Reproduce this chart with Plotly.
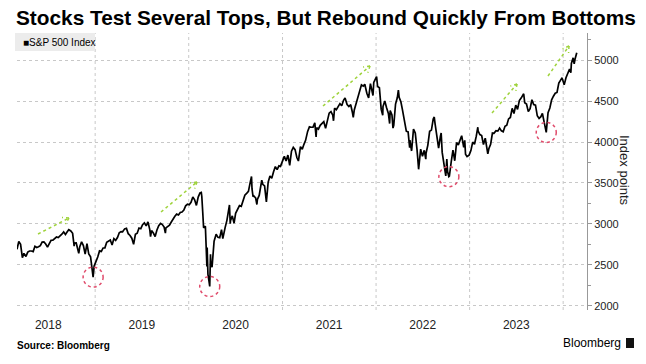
import math
import plotly.graph_objects as go

# ---------------- data (S&P 500 Index) ----------------
dates = [
 "2018-03-02","2018-03-09","2018-03-16","2018-03-23","2018-03-29","2018-04-06","2018-04-13","2018-04-20","2018-04-27",
 "2018-05-04","2018-05-11","2018-05-18","2018-05-25","2018-06-01","2018-06-08","2018-06-15","2018-06-22","2018-06-29",
 "2018-07-06","2018-07-13","2018-07-20","2018-07-27","2018-08-03","2018-08-10","2018-08-17","2018-08-24","2018-08-31",
 "2018-09-07","2018-09-14","2018-09-20","2018-09-28","2018-10-05","2018-10-11","2018-10-12","2018-10-19","2018-10-26",
 "2018-10-29","2018-11-02","2018-11-09","2018-11-16","2018-11-23","2018-11-30","2018-12-07","2018-12-14","2018-12-21",
 "2018-12-24","2018-12-28",
 "2019-01-04","2019-01-11","2019-01-18","2019-01-25","2019-02-01","2019-02-08","2019-02-15","2019-02-22","2019-03-01",
 "2019-03-08","2019-03-15","2019-03-22","2019-03-29","2019-04-05","2019-04-12","2019-04-18","2019-04-26","2019-05-03",
 "2019-05-10","2019-05-17","2019-05-24","2019-05-31","2019-06-07","2019-06-14","2019-06-21","2019-06-28","2019-07-05",
 "2019-07-12","2019-07-19","2019-07-26","2019-08-02","2019-08-05","2019-08-09","2019-08-16","2019-08-23","2019-08-30",
 "2019-09-06","2019-09-13","2019-09-20","2019-09-27","2019-10-02","2019-10-04","2019-10-11","2019-10-18","2019-10-25",
 "2019-11-01","2019-11-08","2019-11-15","2019-11-22","2019-11-29","2019-12-06","2019-12-13","2019-12-20","2019-12-27",
 "2020-01-03","2020-01-10","2020-01-17","2020-01-24","2020-01-31","2020-02-07","2020-02-14","2020-02-19","2020-02-21",
 "2020-02-25","2020-02-28","2020-03-06","2020-03-09","2020-03-12","2020-03-13","2020-03-16","2020-03-20","2020-03-23",
 "2020-03-26","2020-03-27","2020-04-01","2020-04-09","2020-04-17","2020-04-24","2020-05-01","2020-05-08","2020-05-13",
 "2020-05-15","2020-05-22","2020-05-29","2020-06-08","2020-06-11","2020-06-12","2020-06-19","2020-06-26","2020-07-02",
 "2020-07-10","2020-07-17","2020-07-24","2020-07-31","2020-08-07","2020-08-14","2020-08-21","2020-08-28","2020-09-02",
 "2020-09-04","2020-09-08","2020-09-11","2020-09-18","2020-09-23","2020-09-25","2020-10-02","2020-10-09","2020-10-12",
 "2020-10-16","2020-10-23","2020-10-30","2020-11-06","2020-11-13","2020-11-20","2020-11-27","2020-12-04","2020-12-11",
 "2020-12-18","2020-12-24","2020-12-31",
 "2021-01-08","2021-01-15","2021-01-22","2021-01-29","2021-02-05","2021-02-12","2021-02-19","2021-02-26","2021-03-04",
 "2021-03-12","2021-03-19","2021-03-26","2021-04-01","2021-04-09","2021-04-16","2021-04-23","2021-04-30","2021-05-07",
 "2021-05-12","2021-05-14","2021-05-21","2021-05-28","2021-06-04","2021-06-11","2021-06-18","2021-06-25","2021-07-02",
 "2021-07-09","2021-07-16","2021-07-19","2021-07-23","2021-07-30","2021-08-06","2021-08-13","2021-08-20","2021-08-27",
 "2021-09-02","2021-09-10","2021-09-17","2021-09-24","2021-10-01","2021-10-04","2021-10-08","2021-10-15","2021-10-22",
 "2021-10-29","2021-11-05","2021-11-12","2021-11-18","2021-11-26","2021-11-30","2021-12-03","2021-12-10","2021-12-17",
 "2021-12-20","2021-12-23","2021-12-31",
 "2022-01-03","2022-01-07","2022-01-14","2022-01-21","2022-01-27","2022-01-28","2022-02-04","2022-02-11","2022-02-18",
 "2022-02-23","2022-02-25","2022-03-04","2022-03-08","2022-03-11","2022-03-18","2022-03-25","2022-03-29","2022-04-01",
 "2022-04-08","2022-04-14","2022-04-22","2022-04-29","2022-05-06","2022-05-12","2022-05-13","2022-05-19","2022-05-20",
 "2022-05-27","2022-06-03","2022-06-10","2022-06-16","2022-06-24","2022-07-01","2022-07-08","2022-07-14","2022-07-15",
 "2022-07-22","2022-07-29","2022-08-05","2022-08-12","2022-08-16","2022-08-19","2022-08-26","2022-09-02","2022-09-09",
 "2022-09-12","2022-09-16","2022-09-23","2022-09-30","2022-10-04","2022-10-07","2022-10-12","2022-10-14","2022-10-21",
 "2022-10-28","2022-11-04","2022-11-11","2022-11-18","2022-11-25","2022-12-01","2022-12-09","2022-12-13","2022-12-16",
 "2022-12-22","2022-12-30",
 "2023-01-06","2023-01-13","2023-01-20","2023-01-27","2023-02-02","2023-02-03","2023-02-10","2023-02-17","2023-02-24",
 "2023-03-03","2023-03-10","2023-03-13","2023-03-17","2023-03-24","2023-03-31","2023-04-06","2023-04-14","2023-04-21",
 "2023-04-28","2023-05-05","2023-05-12","2023-05-19","2023-05-26","2023-06-02","2023-06-09","2023-06-16","2023-06-23",
 "2023-06-30","2023-07-07","2023-07-14","2023-07-21","2023-07-28","2023-07-31","2023-08-04","2023-08-11","2023-08-18",
 "2023-08-25","2023-09-01","2023-09-08","2023-09-15","2023-09-22","2023-09-29","2023-10-06","2023-10-12","2023-10-13",
 "2023-10-20","2023-10-27","2023-11-03","2023-11-10","2023-11-17","2023-11-24","2023-12-01","2023-12-08","2023-12-15",
 "2023-12-22","2023-12-28","2023-12-29",
 "2024-01-05","2024-01-12","2024-01-19","2024-01-26","2024-01-31","2024-02-02","2024-02-09","2024-02-13","2024-02-16",
 "2024-02-22","2024-02-23",
]
spx = [
 2691,2786,2752,2588,2641,2604,2656,2670,2670,
 2663,2728,2713,2721,2735,2779,2780,2755,2718,
 2760,2801,2802,2819,2840,2833,2850,2875,2902,
 2872,2905,2930,2914,2886,2729,2767,2768,2659,
 2641,2723,2781,2736,2633,2760,2633,2600,2417,
 2351,2486,
 2532,2596,2671,2665,2707,2708,2776,2793,2804,
 2743,2822,2800,2834,2893,2907,2905,2940,2946,
 2881,2860,2826,2752,2873,2887,2950,2942,2990,
 3014,2977,3026,2932,2845,2919,2889,2847,2926,
 2979,3007,2992,2962,2888,2952,2970,2986,3023,
 3067,3093,3120,3110,3141,3146,3169,3221,3240,
 3235,3265,3330,3295,3226,3328,3380,3386,3338,
 3128,2954,2972,2747,2481,2711,2386,2305,2237,
 2630,2541,2471,2790,2875,2837,2831,2930,2820,
 2864,2955,3044,3232,3002,3041,3098,3009,3130,
 3185,3225,3216,3271,3351,3373,3397,3508,3580,
 3427,3332,3341,3319,3237,3298,3348,3477,3535,
 3484,3465,3270,3510,3585,3557,3638,3699,3663,
 3709,3703,3756,
 3825,3768,3841,3714,3887,3934,3907,3811,3768,
 3943,3913,3975,4020,4129,4185,4180,4181,4233,
 4063,4174,4156,4204,4230,4247,4166,4281,4352,
 4370,4327,4259,4412,4395,4437,4468,4442,4509,
 4537,4458,4433,4455,4357,4300,4391,4471,4545,
 4605,4697,4682,4704,4595,4567,4538,4712,4621,
 4568,4726,4766,
 4797,4677,4663,4398,4326,4432,4500,4419,4349,
 4225,4385,4329,4170,4204,4463,4543,4632,4546,
 4488,4393,4272,4132,4123,3930,4024,3900,3901,
 4158,4109,3901,3667,3912,3825,3899,3790,3863,
 3962,4130,4145,4280,4305,4228,4058,3924,4067,
 4110,3873,3693,3586,3791,3640,3577,3583,3753,
 3901,3771,3993,3965,4026,4077,3934,4020,3852,
 3822,3840,
 3895,3999,3973,4071,4180,4136,4090,4079,3970,
 4046,3862,3855,3917,3971,4109,4105,4138,4133,
 4169,4136,4124,4192,4205,4282,4299,4410,4348,
 4450,4399,4505,4536,4582,4589,4478,4464,4370,
 4406,4516,4457,4450,4320,4288,4309,4349,4327,
 4224,4117,4358,4415,4514,4559,4595,4604,4719,
 4755,4783,4770,
 4697,4784,4840,4891,4846,4959,5027,4953,5006,
 5087,5089,
]

series_name = "S&P 500 Index"
year_labels = ["2018", "2019", "2020", "2021", "2022", "2023"]
year_label_pos = ["2018-07-02", "2019-07-02", "2020-07-02", "2021-07-02", "2022-07-02", "2023-07-02"]
year_grid = ["2019-01-01", "2020-01-01", "2021-01-01", "2022-01-01", "2023-01-01", "2024-01-01"]
y_ticks = [2000, 2500, 3000, 3500, 4000, 4500, 5000]
# lows that are circled
low_dates = ["2018-12-24", "2020-03-23", "2022-10-12", "2023-10-27"]
low_vals = [2351, 2237, 3577, 4117]

# ---------------- figure ----------------
W, H = 646, 364
ML, MR, MT, MB = 17, 59, 33, 54
PW, PH = W - ML - MR, H - MT - MB

def px(x):
    return (x - ML) / PW

def py(y):
    return (H - MB - y) / PH

fig = go.Figure()
fig.add_trace(go.Scatter(x=dates, y=spx, mode="lines", name=series_name,
                         line=dict(color="#000000", width=1.7), showlegend=False))

GRID = "#c8c8c8"
TXT = "#222222"
FONT = "Liberation Sans"

fig.update_layout(
    width=W, height=H,
    margin=dict(l=ML, r=MR, t=MT, b=MB),
    paper_bgcolor="white", plot_bgcolor="white",
    font=dict(family=FONT, color=TXT),
    xaxis=dict(
        type="date", range=["2018-03-02", "2024-04-03"],
        tickmode="array", tickvals=year_label_pos, ticktext=year_labels,
        showgrid=False, ticks="", showline=False, zeroline=False,
        tickfont=dict(size=12, color=TXT, family=FONT),
        ticklabelstandoff=6,
    ),
    yaxis=dict(
        side="right", range=[1950, 5330],
        tickmode="array", tickvals=y_ticks,
        showgrid=True, gridcolor=GRID, griddash="dot", gridwidth=1,
        showline=True, linecolor="#999999", linewidth=1,
        ticks="outside", ticklen=4, tickcolor="#999999",
        tickfont=dict(size=11, color=TXT, family=FONT),
        minor=dict(dtick=250, tick0=2000, ticks="outside", ticklen=3,
                   tickcolor="#999999", showgrid=False),
        zeroline=False,
    ),
    showlegend=False,
)

# Vertical year-boundary gridlines
for g in year_grid:
    fig.add_shape(type="line", xref="x", yref="paper", x0=g, x1=g, y0=0, y1=1,
                  line=dict(color=GRID, width=1, dash="dot"), layer="below")

# Title
fig.add_annotation(xref="paper", yref="paper", x=px(14), y=py(17), xanchor="left", yanchor="middle",
                   text="<b>Stocks Test Several Tops, But Rebound Quickly From Bottoms</b>",
                   showarrow=False, font=dict(size=20.8, color="#000000", family=FONT))

# Legend box
fig.add_shape(type="rect", xref="paper", yref="paper", x0=px(15), x1=px(95), y0=py(51), y1=py(33),
              fillcolor="#ececec", line=dict(width=0), layer="below")
fig.add_annotation(xref="paper", yref="paper", x=px(21), y=py(42), xanchor="left", yanchor="middle",
                   text="■" + series_name, showarrow=False,
                   font=dict(size=10, color="#000000", family=FONT))

# Y axis title
fig.add_annotation(xref="paper", yref="paper", x=px(625), y=py(170), xanchor="center", yanchor="middle",
                   text="Index points", textangle=90, showarrow=False,
                   font=dict(size=13, color=TXT, family=FONT))

# Footer
fig.add_annotation(xref="paper", yref="paper", x=px(15), y=py(345), xanchor="left", yanchor="middle",
                   text="<b>Source: Bloomberg</b>", showarrow=False,
                   font=dict(size=10, color="#000000", family=FONT))
fig.add_annotation(xref="paper", yref="paper", x=px(623), y=py(343), xanchor="right", yanchor="middle",
                   text="Bloomberg", showarrow=False,
                   font=dict(size=12, color="#000000", family=FONT))
fig.add_shape(type="rect", xref="paper", yref="paper", x0=px(626), x1=px(634), y0=py(348), y1=py(338),
              fillcolor="#111111", line=dict(width=0))

# Circles around lows
CIRC = "#e04b6b"
for d, v in zip(low_dates, low_vals):
    fig.add_shape(type="circle", xref="x", yref="y", xsizemode="pixel", ysizemode="pixel",
                  xanchor=d, yanchor=v, x0=-10, x1=10, y0=-10, y1=10,
                  line=dict(color=CIRC, width=1.5, dash="dot"))

# Green dotted arrows (pixel start/end) with open heads
ARROW = "#9fd33c"
arrows = [((38, 234), (69, 218)), ((161, 212), (197, 182)), ((323, 106), (370, 66)),
          ((492, 113), (517, 84)), ((548, 76), (569, 46))]
for (x0, y0), (x1, y1) in arrows:
    fig.add_shape(type="line", xref="paper", yref="paper", x0=px(x0), y0=py(y0), x1=px(x1), y1=py(y1),
                  line=dict(color=ARROW, width=1.5, dash="dot"))
    ang = math.atan2(y0 - y1, x0 - x1)
    for da in (0.55, -0.55):
        hx = x1 + 7 * math.cos(ang + da)
        hy = y1 + 7 * math.sin(ang + da)
        fig.add_shape(type="line", xref="paper", yref="paper", x0=px(x1), y0=py(y1), x1=px(hx), y1=py(hy),
                      line=dict(color=ARROW, width=1.5, dash="dot"))

fig.write_html("out.html", config={"displayModeBar": False},
               post_script="document.body.style.margin='0px';")
